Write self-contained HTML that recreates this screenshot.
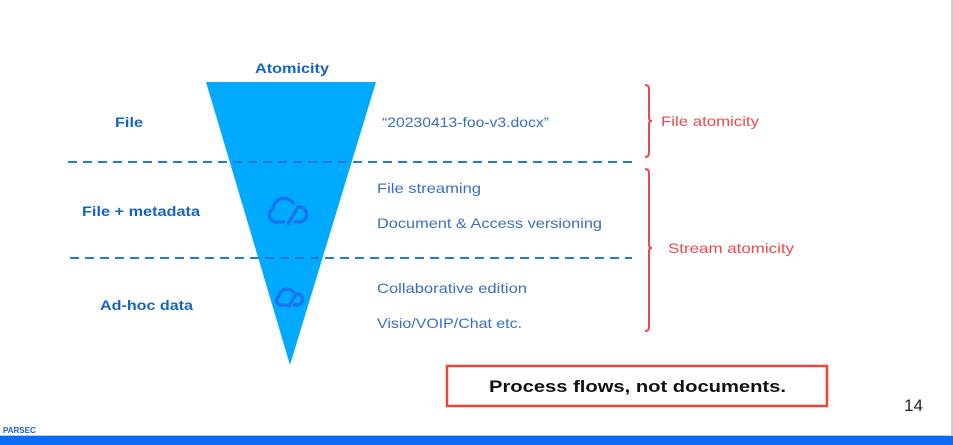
<!DOCTYPE html>
<html><head><style>
body{margin:0;width:953px;height:445px;background:#fff;overflow:hidden;font-family:"Liberation Sans",sans-serif}
</style></head><body>
<svg width="953" height="445" xmlns="http://www.w3.org/2000/svg" style="position:absolute;left:0;top:0">
<polygon points="206,82 376,82 290,365" fill="#00aaff"/>
<line x1="68" y1="162" x2="632" y2="162" stroke="#2a78d0" stroke-width="2" stroke-dasharray="9,6"/>
<line x1="70" y1="258" x2="632" y2="258" stroke="#2a78d0" stroke-width="2" stroke-dasharray="9,6"/>
<g fill="none" stroke="#1a74f0" stroke-width="3.5" stroke-linecap="round">
<path d="M284,222 h-9 a7,7 0 0 1 -2,-13 a11,11 0 0 1 20,-6"/>
<path d="M288,224 l10,-17 a7,7 0 1 1 2,15 h-5"/>
<path d="M286,305 h-6 a5,5 0 0 1 -1,-9 a8,8 0 0 1 14,-4"/>
<path d="M289,306 l7,-12 a5,5 0 1 1 2,11 h-4"/>
</g>
<g font-family="Liberation Sans, sans-serif" font-weight="bold" fill="#1565c0" font-size="14">
<text x="255" y="73" textLength="74" lengthAdjust="spacingAndGlyphs">Atomicity</text>
<text x="115" y="127" textLength="28" lengthAdjust="spacingAndGlyphs">File</text>
<text x="82" y="216" textLength="118" lengthAdjust="spacingAndGlyphs">File + metadata</text>
<text x="100" y="310" textLength="93" lengthAdjust="spacingAndGlyphs">Ad-hoc data</text>
</g>
<g font-family="Liberation Sans, sans-serif" fill="#3a6fc0" font-size="14">
<text x="382" y="127" textLength="167" lengthAdjust="spacingAndGlyphs">“20230413-foo-v3.docx”</text>
<text x="377" y="193" textLength="104" lengthAdjust="spacingAndGlyphs">File streaming</text>
<text x="377" y="228" textLength="225" lengthAdjust="spacingAndGlyphs">Document &amp; Access versioning</text>
<text x="377" y="293" textLength="150" lengthAdjust="spacingAndGlyphs">Collaborative edition</text>
<text x="377" y="328" textLength="145" lengthAdjust="spacingAndGlyphs">Visio/VOIP/Chat etc.</text>
</g>
<g fill="none" stroke="#f0484a" stroke-width="2">
<path d="M645,85 q4,0 4,4 v29 q0,3 3,3 q-3,0 -3,3 v29 q0,4 -4,4"/>
<path d="M645,169 q4,0 4,4 v72 q0,3 3,3 q-3,0 -3,3 v76 q0,4 -4,4"/>
</g>
<g font-family="Liberation Sans, sans-serif" fill="#f0484a" font-size="14">
<text x="661" y="126" textLength="98" lengthAdjust="spacingAndGlyphs">File atomicity</text>
<text x="668" y="253" textLength="126" lengthAdjust="spacingAndGlyphs">Stream atomicity</text>
</g>
<rect x="447" y="366" width="380" height="40" fill="none" stroke="#ee4433" stroke-width="2.5"/>
<text x="489" y="392" textLength="297" lengthAdjust="spacingAndGlyphs" font-family="Liberation Sans, sans-serif" font-weight="bold" font-size="17" fill="#111">Process flows, not documents.</text>
<text x="904" y="411" font-family="Liberation Sans, sans-serif" font-size="17" fill="#222">14</text>
<text x="3" y="433" font-family="Liberation Sans, sans-serif" font-weight="bold" font-size="8" fill="#1a5fd0">PARSEC</text>
<rect x="0" y="436" width="953" height="9" fill="#0a6cf5"/>
<rect x="0" y="435" width="953" height="1" fill="#b0c8f0"/>
<rect x="951" y="0" width="2" height="436" fill="#cccccc"/>
</svg>
</body></html>
